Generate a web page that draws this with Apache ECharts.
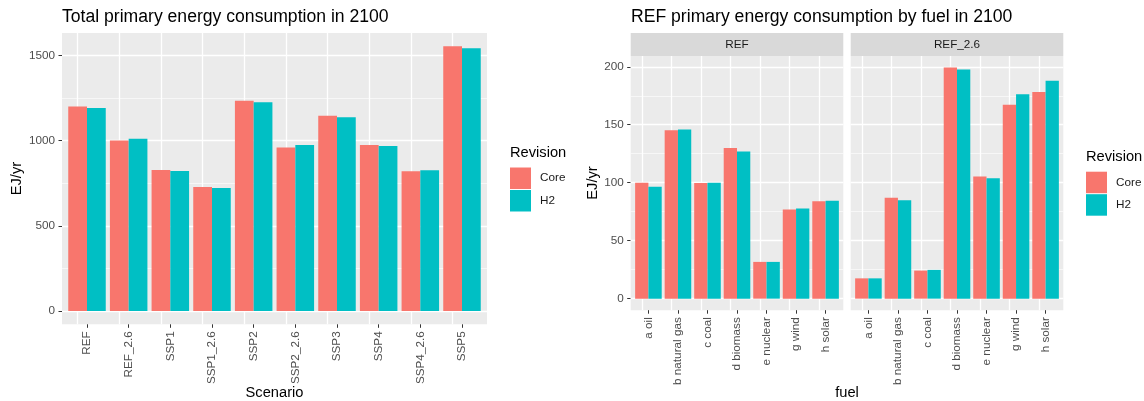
<!DOCTYPE html>
<html>
<head>
<meta charset="utf-8">
<script src="https://cdn.jsdelivr.net/npm/echarts@6/dist/echarts.min.js"></script>
<style>html,body{margin:0;padding:0;background:#fff;}#c{width:1144px;height:401px;}</style>
</head>
<body>
<div id="c"></div>
<script>
// ---- data ----
const scenarios = ['REF','REF_2.6','SSP1','SSP1_2.6','SSP2','SSP2_2.6','SSP3','SSP4','SSP4_2.6','SSP5'];
const totalCore = [1201, 1001, 828, 728, 1234, 960, 1146, 975, 821, 1554];
const totalH2   = [1191, 1011, 822, 722, 1225, 975, 1138, 969, 826, 1542];

const fuels = ['a oil','b natural gas','c coal','d biomass','e nuclear','g wind','h solar'];
const refCore   = [100, 145.3, 99.7, 130, 31.7, 77, 84];
const refH2     = [96.5, 146, 100, 127, 31.7, 77.8, 84.5];
const ref26Core = [17.5, 87.1, 24.2, 199.3, 105.3, 167.3, 178.2];
const ref26H2   = [17.5, 84.8, 24.8, 197.6, 103.8, 176.2, 188];

const facets = ['REF', 'REF_2.6'];
const revisions = ['Core', 'H2'];

const totalTicks = [0, 500, 1000, 1500];
const totalMinor = [250, 750, 1250];
const fuelTicks = [0, 50, 100, 150, 200];
const fuelMinor = [25, 75, 125, 175];

// ---- style ----
const FONT = '"Liberation Sans", Arial, Helvetica, sans-serif';
const COLORS = ['#F8766D', '#00BFC4'];
const PANEL = '#EBEBEB';
const STRIP = '#D9D9D9';

function idx(arr) { return arr.map((_, i) => i); }
function pairs(vals) { return vals.map((v, i) => [i, v]); }

function gridLines(n, major, minor) {
  const data = [];
  major.forEach(v => data.push({ yAxis: v, lineStyle: { width: 1.3 } }));
  minor.forEach(v => data.push({ yAxis: v, lineStyle: { width: 0.6 } }));
  for (let i = 0; i < n; i++) data.push({ xAxis: i, lineStyle: { width: 1.3 } });
  return {
    silent: true, symbol: 'none', z: 1, animation: false,
    label: { show: false }, emphasis: { disabled: true },
    lineStyle: { color: '#FFFFFF', type: 'solid', width: 1.3 },
    data
  };
}

function xAxisDef(gridIndex, cats) {
  return {
    type: 'value', gridIndex, min: -0.6, max: cats.length - 0.4,
    axisLine: { show: false, onZero: false },
    splitLine: { show: false },
    axisTick: { customValues: idx(cats), length: 3.5, lineStyle: { color: '#333333', width: 1 } },
    axisLabel: {
      customValues: idx(cats), rotate: 90, margin: 7,
      color: '#4D4D4D', fontSize: 11.73, fontFamily: FONT,
      formatter: v => cats[Math.round(v)]
    }
  };
}

function yAxisDef(gridIndex, min, max, ticks, showLabels) {
  return {
    type: 'value', gridIndex, min, max,
    axisLine: { show: false, onZero: false },
    splitLine: { show: false },
    axisTick: { show: showLabels, customValues: ticks, length: 3.5, lineStyle: { color: '#333333', width: 1 } },
    axisLabel: {
      show: showLabels, customValues: ticks, margin: 7,
      color: '#4D4D4D', fontSize: 11.73, fontFamily: FONT,
      formatter: v => String(v)
    }
  };
}

function barSeries(name, color, xi, data, lines) {
  const s = {
    type: 'bar', name, xAxisIndex: xi, yAxisIndex: xi,
    data, barGap: '0%', barCategoryGap: '10%',
    itemStyle: { color }, z: 2, animation: false,
    emphasis: { disabled: true }
  };
  if (lines) s.markLine = lines;
  return s;
}

const txt = (x, y, text, size, opts = {}) => Object.assign({
  type: 'text', x, y, silent: true,
  style: Object.assign({
    text, fontSize: size, fontFamily: FONT, fill: opts.fill || '#000000',
    align: opts.align || 'left', verticalAlign: 'middle'
  })
}, opts.rotation != null ? { rotation: opts.rotation } : {});

const option = {
  backgroundColor: '#FFFFFF',
  animation: false,
  grid: [
    { left: 62, top: 33, width: 425, height: 291.3, show: true, backgroundColor: PANEL, borderWidth: 0 },
    { left: 630.7, top: 56, width: 212.6, height: 254.2, show: true, backgroundColor: PANEL, borderWidth: 0 },
    { left: 850.7, top: 56, width: 212.6, height: 254.2, show: true, backgroundColor: PANEL, borderWidth: 0 }
  ],
  xAxis: [xAxisDef(0, scenarios), xAxisDef(1, fuels), xAxisDef(2, fuels)],
  yAxis: [
    yAxisDef(0, -77.7, 1631.7, totalTicks, true),
    yAxisDef(1, -9.965, 209.3, fuelTicks, true),
    yAxisDef(2, -9.965, 209.3, fuelTicks, false)
  ],
  legend: [
    { left: 510, top: 167.5, orient: 'vertical', icon: 'rect', itemWidth: 21, itemHeight: 21.5, itemGap: 1,
      padding: 0, selectedMode: false, data: revisions,
      textStyle: { fontSize: 11.73, color: '#1A1A1A', fontFamily: FONT, padding: [0, 0, 0, 4] } },
    { left: 1086, top: 171.7, orient: 'vertical', icon: 'rect', itemWidth: 21, itemHeight: 21.5, itemGap: 1,
      padding: 0, selectedMode: false, data: revisions,
      textStyle: { fontSize: 11.73, color: '#1A1A1A', fontFamily: FONT, padding: [0, 0, 0, 4] } }
  ],
  series: [
    barSeries(revisions[0], COLORS[0], 0, pairs(totalCore), gridLines(scenarios.length, totalTicks, totalMinor)),
    barSeries(revisions[1], COLORS[1], 0, pairs(totalH2)),
    barSeries(revisions[0], COLORS[0], 1, pairs(refCore), gridLines(fuels.length, fuelTicks, fuelMinor)),
    barSeries(revisions[1], COLORS[1], 1, pairs(refH2)),
    barSeries(revisions[0], COLORS[0], 2, pairs(ref26Core), gridLines(fuels.length, fuelTicks, fuelMinor)),
    barSeries(revisions[1], COLORS[1], 2, pairs(ref26H2))
  ],
  graphic: [
    { type: 'rect', shape: { x: 630.7, y: 33, width: 212.6, height: 23 }, style: { fill: STRIP }, silent: true },
    { type: 'rect', shape: { x: 850.7, y: 33, width: 212.6, height: 23 }, style: { fill: STRIP }, silent: true },
    txt(737, 45, facets[0], 11.73, { align: 'center', fill: '#1A1A1A' }),
    txt(957, 45, facets[1], 11.73, { align: 'center', fill: '#1A1A1A' }),
    txt(62, 17.5, 'Total primary energy consumption in 2100', 17.6),
    txt(631, 17.5, 'REF primary energy consumption by fuel in 2100', 17.6),
    txt(274.5, 393, 'Scenario', 14.67, { align: 'center' }),
    txt(847, 393, 'fuel', 14.67, { align: 'center' }),
    txt(17, 178.6, 'EJ/yr', 14.67, { align: 'center', rotation: Math.PI / 2 }),
    txt(593, 183, 'EJ/yr', 14.67, { align: 'center', rotation: Math.PI / 2 }),
    txt(510, 153, 'Revision', 14.67),
    txt(1086, 157, 'Revision', 14.67)
  ]
};

const chart = echarts.init(document.getElementById('c'), null, { renderer: 'canvas' });
chart.setOption(option);
</script>
</body>
</html>
